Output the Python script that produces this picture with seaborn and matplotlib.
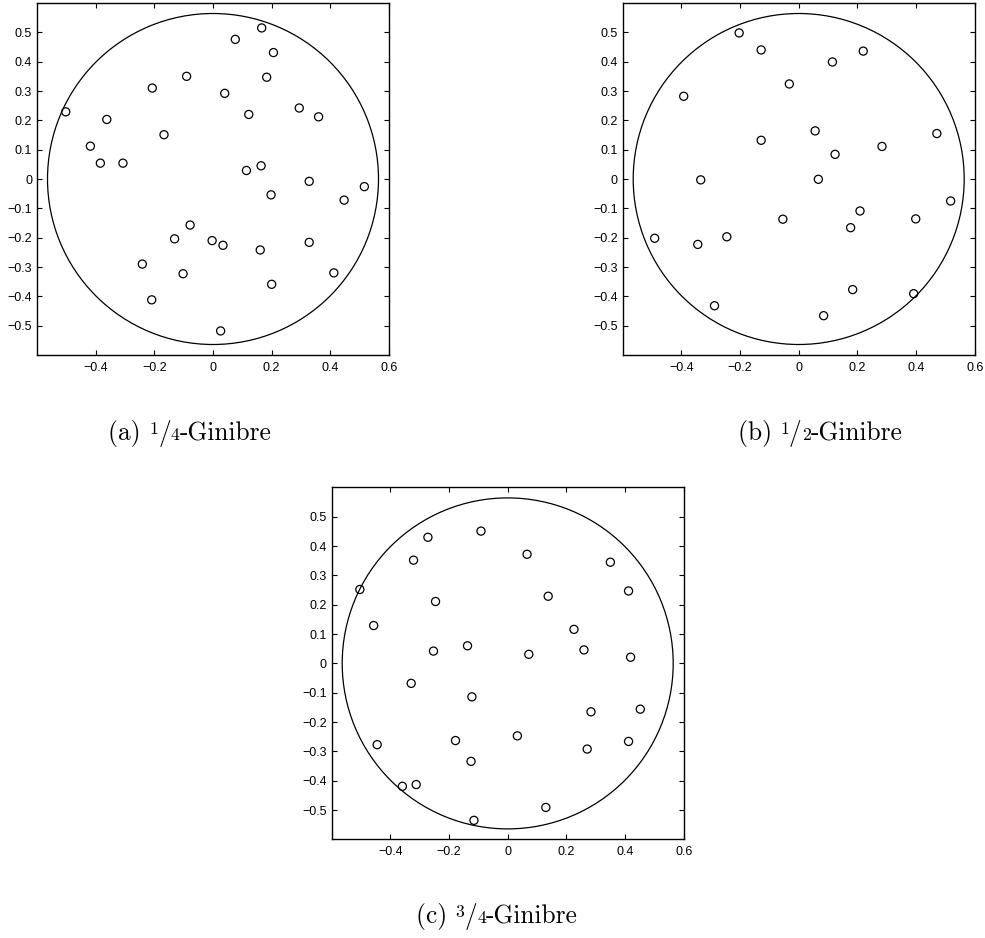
import numpy as np
import matplotlib
matplotlib.use("Agg")
import matplotlib.pyplot as plt
from matplotlib.patches import Circle
import seaborn as sns

# Point configurations for the three beta-Ginibre samples
x_quarter = [0.166, 0.076, 0.206, -0.090, 0.183, -0.207, 0.040, 0.294, 0.360, 0.122,
             -0.502, -0.362, -0.167, -0.418, -0.384, -0.307, 0.164, 0.114, 0.328, 0.516,
             0.198, 0.447, -0.078, -0.131, -0.003, 0.034, 0.161, 0.328, -0.241, -0.102,
             0.412, 0.200, -0.209, 0.026]
y_quarter = [0.515, 0.476, 0.431, 0.350, 0.347, 0.310, 0.292, 0.242, 0.212, 0.220,
             0.229, 0.203, 0.151, 0.112, 0.054, 0.054, 0.045, 0.029, -0.008, -0.026,
             -0.054, -0.072, -0.157, -0.204, -0.210, -0.226, -0.242, -0.216, -0.290, -0.323,
             -0.320, -0.359, -0.412, -0.518]

x_half = [-0.203, -0.128, 0.220, 0.115, -0.032, -0.392, 0.056, -0.128, 0.284, 0.124,
          -0.334, 0.067, 0.209, -0.054, 0.177, -0.491, -0.344, -0.245, 0.184, -0.287,
          0.085, 0.471, 0.518, 0.399, 0.392]
y_half = [0.498, 0.440, 0.436, 0.399, 0.324, 0.282, 0.164, 0.132, 0.111, 0.084,
          -0.003, -0.001, -0.109, -0.137, -0.166, -0.202, -0.223, -0.197, -0.377, -0.432,
          -0.466, 0.155, -0.075, -0.136, -0.391]

x_three = [-0.091, -0.272, -0.321, 0.066, 0.350, -0.504, 0.412, 0.138, -0.246, -0.457,
           0.226, -0.137, -0.253, 0.260, 0.072, 0.419, -0.329, -0.122, 0.284, 0.452,
           -0.178, 0.033, -0.445, 0.271, 0.412, -0.125, -0.359, -0.312, 0.130, -0.115]
y_three = [0.451, 0.430, 0.352, 0.372, 0.345, 0.252, 0.247, 0.229, 0.211, 0.129,
           0.116, 0.060, 0.042, 0.046, 0.031, 0.021, -0.068, -0.114, -0.165, -0.156,
           -0.263, -0.247, -0.277, -0.292, -0.266, -0.334, -0.419, -0.413, -0.491, -0.535]

# caption parts: label, numerator, denominator
caption_labels = ["(a)", "(b)", "(c)"]
caption_num = ["1", "1", "3"]
caption_den = ["4", "2", "4"]

xticks = [-0.4, -0.2, 0, 0.2, 0.4, 0.6]
xtick_labels = ["\u22120.4", "\u22120.2", "0", "0.2", "0.4", "0.6"]
yticks = [-0.5, -0.4, -0.3, -0.2, -0.1, 0, 0.1, 0.2, 0.3, 0.4, 0.5]
ytick_labels = ["\u22120.5", "\u22120.4", "\u22120.3", "\u22120.2", "\u22120.1", "0",
                "0.1", "0.2", "0.3", "0.4", "0.5"]

sns.set_theme(style="ticks")
plt.rcParams["font.family"] = ["Liberation Sans", "DejaVu Sans"]

W, H = 985, 938
fig = plt.figure(figsize=(W / 100, H / 100), dpi=100)
renderer = fig.canvas.get_renderer()

side = 352
# axes boxes in pixels: (left, top)
boxes = [(37, 3), (622.7, 3), (331.7, 487.4)]
caption_pos = [(190, 440), (820, 440), (497, 923)]
data = [(x_quarter, y_quarter), (x_half, y_half), (x_three, y_three)]

radius = 1.0 / np.sqrt(np.pi)
CAP_SIZE = 18.3
SMALL = CAP_SIZE * 0.7


def nice_caption(cx, base_y, label, num, den):
    """Write '(x) n/d-Ginibre' with a text-style fraction, centred at cx (pixels)."""
    pieces = [
        (label + "\u00a0", CAP_SIZE, 0.0),
        (num, SMALL, CAP_SIZE * 0.683 - SMALL * 0.66),
        ("/", CAP_SIZE, 0.0),
        (den, SMALL, 0.0),
        ("-Ginibre", CAP_SIZE, 0.0),
    ]
    texts = []
    widths = []
    for s, size, _ in pieces:
        t = fig.text(0, 0, s, fontsize=size, family="cmr10", color="black",
                     ha="left", va="baseline")
        widths.append(t.get_window_extent(renderer).width)
        texts.append(t)
    total = sum(widths)
    x = cx - total / 2
    for t, w, (_, _, dy_pt) in zip(texts, widths, pieces):
        t.set_position((x / W, (H - base_y + dy_pt * 100 / 72) / H))
        x += w


for (left, top), (xs, ys), lab, num, den, (cx, cy) in zip(
        boxes, data, caption_labels, caption_num, caption_den, caption_pos):
    ax = fig.add_axes([left / W, (H - top - side) / H, side / W, side / H])
    ax.add_patch(Circle((0, 0), radius, fill=False, edgecolor="black", linewidth=0.9))
    sns.scatterplot(x=xs, y=ys, ax=ax, marker="o", s=34, facecolor="none",
                    edgecolor="black", linewidth=0.9, zorder=3)
    ax.set_xlim(-0.6, 0.6)
    ax.set_ylim(-0.6, 0.6)
    ax.set_aspect("equal", adjustable="box")
    ax.set_xticks(xticks)
    ax.set_xticklabels(xtick_labels)
    ax.set_yticks(yticks)
    ax.set_yticklabels(ytick_labels)
    ax.tick_params(direction="in", length=3.5, width=0.8, top=True, right=True,
                   labelsize=9, colors="black")
    ax.tick_params(axis="x", pad=5)
    ax.tick_params(axis="y", pad=3.5)
    for sp in ax.spines.values():
        sp.set_visible(True)
        sp.set_color("black")
        sp.set_linewidth(1.0)
    nice_caption(cx, cy, lab, num, den)

fig.savefig("out.png", dpi=100, facecolor="white")
